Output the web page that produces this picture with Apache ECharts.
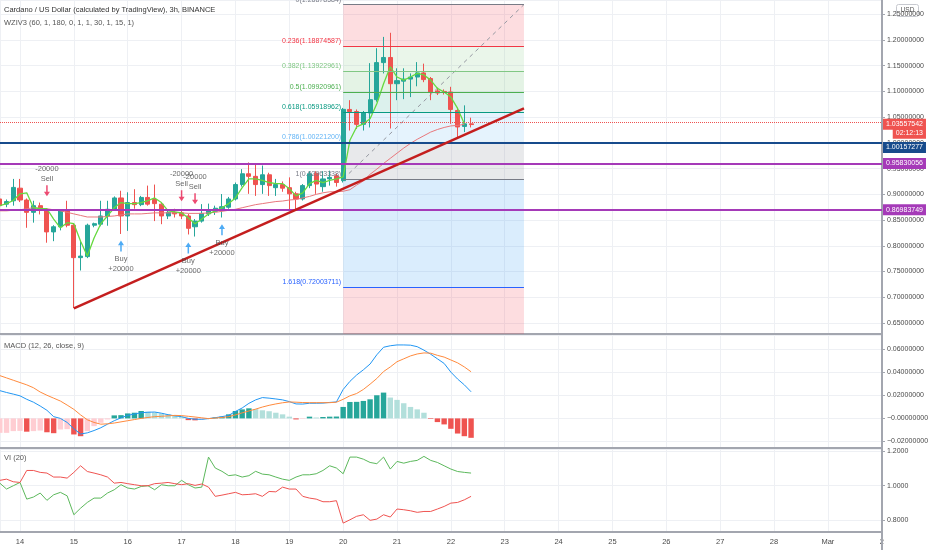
<!DOCTYPE html>
<html><head><meta charset="utf-8">
<script src="https://cdn.jsdelivr.net/npm/echarts@6/dist/echarts.min.js"></script>
<style>html,body{margin:0;padding:0;background:#fff;}#c{width:932px;height:550px;}</style>
</head><body><div id="c"></div>
<script>
// ---------- data ----------
const firstBarDay = 13.625;   // 13 Feb 15:00 (3h bars)
const barStepDays = 0.125;
const candleOpen  = [0.891,0.881,0.8875,0.912,0.889,0.865,0.878,0.869,0.827,0.837,0.868,0.840,0.777,0.779,0.840,0.842,0.858,0.871,0.893,0.858,0.884,0.880,0.894,0.890,0.881,0.858,0.865,0.864,0.858,0.837,0.848,0.862,0.867,0.872,0.875,0.891,0.919,0.940,0.935,0.919,0.938,0.913,0.919,0.913,0.901,0.891,0.917,0.941,0.915,0.930,0.936,0.9266,1.065,1.061,1.036,1.058,1.084,1.156,1.166,1.115,1.120,1.124,1.128,1.136,1.125,1.101,1.100,1.099,1.063,1.032,1.037];
const candleClose = [0.878,0.886,0.9135,0.889,0.865,0.878,0.869,0.827,0.837,0.868,0.840,0.777,0.780,0.840,0.843,0.858,0.871,0.893,0.858,0.884,0.880,0.894,0.881,0.882,0.858,0.865,0.862,0.858,0.834,0.848,0.863,0.868,0.873,0.876,0.891,0.919,0.940,0.935,0.919,0.938,0.917,0.919,0.912,0.901,0.891,0.917,0.940,0.920,0.930,0.933,0.923,1.0652,1.061,1.036,1.058,1.084,1.156,1.166,1.115,1.121,1.124,1.128,1.136,1.123,1.099,1.097,1.098,1.065,1.031,1.037,1.03557542];
const candleHigh  = [0.895,0.890,0.930,0.930,0.892,0.8875,0.884,0.872,0.840,0.871,0.8875,0.843,0.809,0.843,0.845,0.8875,0.8875,0.896,0.907,0.904,0.910,0.897,0.917,0.919,0.884,0.870,0.872,0.869,0.862,0.852,0.881,0.882,0.878,0.9006,0.895,0.923,0.949,0.962,0.959,0.956,0.942,0.930,0.925,0.933,0.905,0.920,0.945,0.945,0.945,0.946,0.940,1.068,1.083,1.065,1.062,1.155,1.184,1.206,1.214,1.145,1.145,1.135,1.157,1.154,1.128,1.105,1.104,1.109,1.068,1.073,1.049];
const candleLow   = [0.872,0.875,0.878,0.885,0.835,0.845,0.861,0.806,0.809,0.830,0.836,0.679,0.752,0.776,0.836,0.838,0.839,0.868,0.823,0.829,0.872,0.877,0.878,0.848,0.842,0.852,0.855,0.852,0.822,0.818,0.845,0.858,0.860,0.855,0.872,0.888,0.915,0.901,0.897,0.901,0.897,0.897,0.905,0.871,0.868,0.888,0.912,0.901,0.905,0.917,0.915,0.923,1.024,1.027,1.024,1.030,1.080,1.135,1.028,1.083,1.085,1.089,1.110,1.118,1.083,1.093,1.094,1.037,1.011,1.021,1.030];
const fastMA = [0.878,0.882,0.888,0.901,0.903,0.874,0.872,0.872,0.852,0.835,0.845,0.843,0.809,0.780,0.815,0.843,0.858,0.874,0.884,0.882,0.882,0.884,0.888,0.893,0.884,0.868,0.866,0.864,0.854,0.843,0.852,0.862,0.868,0.874,0.882,0.893,0.913,0.930,0.930,0.927,0.923,0.921,0.921,0.911,0.897,0.903,0.921,0.927,0.923,0.927,0.930,0.934,1.005,1.031,1.037,1.047,1.076,1.115,1.148,1.128,1.122,1.128,1.135,1.132,1.122,1.106,1.099,1.089,1.067,1.037];
const slowMA = [0.868,0.868,0.869,0.870,0.872,0.874,0.873,0.872,0.870,0.868,0.865,0.862,0.859,0.856,0.856,0.856,0.857,0.858,0.860,0.862,0.862,0.862,0.863,0.864,0.864,0.864,0.864,0.864,0.863,0.863,0.863,0.864,0.865,0.867,0.869,0.871,0.874,0.877,0.880,0.882,0.884,0.886,0.887,0.889,0.890,0.893,0.896,0.900,0.903,0.905,0.905,0.906,0.909,0.918,0.926,0.939,0.949,0.960,0.970,0.980,0.990,0.999,1.007,1.014,1.021,1.026,1.030,1.033,1.034,1.036];
const macdLine   = [0.0240,0.0224,0.0210,0.0195,0.0165,0.0140,0.0107,0.0070,0.0015,0.0000,-0.0035,-0.0090,-0.0135,-0.0125,-0.0105,-0.0081,-0.0050,-0.0020,0.0005,0.0026,0.0038,0.0049,0.0053,0.0055,0.0045,0.0032,0.0022,0.0015,0.0000,-0.0007,-0.0008,-0.0002,0.0006,0.0015,0.0026,0.0060,0.0090,0.0130,0.0160,0.0180,0.0175,0.0168,0.0160,0.0145,0.0125,0.0124,0.0131,0.0131,0.0132,0.0138,0.0142,0.0250,0.0320,0.0375,0.0420,0.0470,0.0550,0.0615,0.0628,0.0635,0.0635,0.0633,0.0620,0.0590,0.0555,0.0515,0.0475,0.0400,0.0340,0.0290,0.0230];
const macdSignal = [0.0370,0.0350,0.0330,0.0310,0.0290,0.0265,0.0228,0.0200,0.0175,0.0150,0.0115,0.0078,0.0030,-0.0012,-0.0035,-0.0050,-0.0047,-0.0040,-0.0030,-0.0020,-0.0010,0.0000,0.0008,0.0015,0.0018,0.0022,0.0026,0.0024,0.0018,0.0012,0.0005,-0.0002,0.0003,0.0008,0.0015,0.0030,0.0048,0.0064,0.0080,0.0098,0.0113,0.0125,0.0135,0.0142,0.0140,0.0137,0.0136,0.0136,0.0136,0.0136,0.0140,0.0165,0.0195,0.0215,0.0250,0.0296,0.0345,0.0405,0.0445,0.0490,0.0515,0.0540,0.0557,0.0566,0.0564,0.0545,0.0530,0.0505,0.0480,0.0445,0.0403];
const macdHist   = [-0.0125,-0.0125,-0.0110,-0.0108,-0.0115,-0.0110,-0.0105,-0.0120,-0.0128,-0.0096,-0.0093,-0.0139,-0.0154,-0.0110,-0.0067,-0.0038,-0.0009,0.0026,0.0028,0.0043,0.0049,0.0064,0.0058,0.0052,0.0043,0.0035,0.0026,0.0012,-0.0015,-0.0017,-0.0010,0.0003,0.0008,0.0015,0.0035,0.0064,0.0078,0.0087,0.0080,0.0070,0.0062,0.0049,0.0035,0.0015,-0.0009,-0.0005,0.0015,0.0008,0.0012,0.0015,0.0016,0.0099,0.0142,0.0143,0.0151,0.0165,0.0200,0.0223,0.0180,0.0160,0.0131,0.0099,0.0078,0.0049,-0.0005,-0.0032,-0.0052,-0.0090,-0.0131,-0.0154,-0.0168];
const viPlus  = [1.015,0.981,1.000,1.019,0.923,0.935,0.958,0.916,0.948,0.962,0.942,0.833,0.871,0.904,0.929,0.929,0.958,0.977,1.006,0.987,0.981,0.996,1.000,0.977,1.006,1.000,1.000,1.031,1.006,0.987,0.992,1.165,1.102,1.083,1.058,1.063,1.050,1.058,1.083,1.067,1.063,1.050,1.038,1.031,1.050,1.063,1.063,1.069,1.088,1.115,1.102,1.069,1.165,1.165,1.153,1.134,1.127,1.165,1.096,1.140,1.130,1.140,1.146,1.169,1.146,1.134,1.115,1.096,1.082,1.077,1.073];
const viMinus = [1.031,1.038,1.023,1.019,1.088,1.088,1.077,1.073,1.050,1.050,1.044,1.077,1.115,1.082,1.073,1.063,1.050,1.015,1.019,1.012,1.006,1.000,1.000,1.012,1.015,1.019,1.012,1.006,1.012,1.002,1.010,0.992,0.939,0.946,0.954,0.962,0.948,0.950,0.954,0.939,0.967,0.965,0.992,0.981,0.981,0.939,0.929,0.923,0.908,0.908,0.914,0.785,0.804,0.824,0.833,0.801,0.808,0.833,0.820,0.866,0.862,0.856,0.847,0.852,0.852,0.866,0.881,0.900,0.904,0.919,0.939];
const dayTicks      = [14,15,16,17,18,19,20,21,22,23,24,25,26,27,28,29,30];
const dayTickLabels = ['14','15','16','17','18','19','20','21','22','23','24','25','26','27','28','Mar','2'];
const fibStartDay = 20.0, fibEndDay = 23.357;
const fibLevels      = [0, 0.236, 0.382, 0.5, 0.618, 0.786, 1, 1.618, 2.618];
const fibLevelPrices = [1.26878584, 1.18874587, 1.13922961, 1.09920961, 1.05918962, 1.00221200, 0.92963338, 0.72003711, 0.38088];
const hLinePrices = [1.00157277, 0.95830056, 0.86983749];
const lastPrice = 1.03557542;
const countdownText = '02:12:13';
const trendLine = [[15.0, 0.6785], [23.357, 1.0672]];
const sellSignals = [[14.5, 0.907], [17.0, 0.8973], [17.25, 0.8914]];
const buySignals  = [[15.875, 0.7995], [17.125, 0.7957], [17.75, 0.831]];
const orderSize = 20000;

// ---------- styles / layout ----------
const dayMin = 13.6286, dayMax = 30.0046;
const priceMin = 0.6286, priceMax = 1.2777;
const macdMin = -0.0256, macdMax = 0.0721;
const viMin = 0.7338, viMax = 1.2115;
const FONT = 'Liberation Sans, Arial, sans-serif';
const upColor = '#26a69a', downColor = '#ef5350';
const axisGray = '#a3a6af', gridColor = '#eef0f4', labelColor = '#4a4a4a';
const fibLineColors = ['#787b86','#f23645','#81c784','#4caf50','#089981','#64b5f6','#787b86','#2962ff','#f23645'];
const fibZoneColors = ['rgba(242,54,69,0.17)','rgba(129,199,132,0.17)','rgba(76,175,80,0.15)','rgba(8,153,129,0.14)','rgba(100,181,246,0.17)','rgba(120,123,134,0.17)','rgba(33,150,243,0.17)','rgba(242,54,69,0.17)'];

const barDays = candleOpen.map((_, i) => firstBarDay + i * barStepDays);
const candles = candleOpen.map((o, i) => [barDays[i], o, candleClose[i], candleLow[i], candleHigh[i]]);
const pair = arr => arr.map((v, i) => [barDays[i], v]);

function dayLabel(v) {
  const r = Math.round(v);
  if (Math.abs(v - r) > 1e-6) return '';
  const k = dayTicks.indexOf(r);
  return k >= 0 ? dayTickLabels[k] : '';
}
function xAx(gi, showLabels) {
  return { type: 'value', gridIndex: gi, min: dayMin, max: dayMax, minInterval: 1, maxInterval: 1, splitNumber: 16,
    axisLine: { show: true, onZero: false, lineStyle: { color: axisGray, width: 2 } },
    axisTick: { show: false },
    axisLabel: { show: showLabels, formatter: dayLabel, color: labelColor, fontSize: 7.5, fontFamily: FONT, margin: 6, showMinLabel: false, showMaxLabel: false },
    splitLine: { show: true, lineStyle: { color: gridColor, width: 1 } } };
}
function yAx(gi, min, max, iv, fmt) {
  return { type: 'value', gridIndex: gi, position: 'right', min: min, max: max, minInterval: iv, maxInterval: iv, splitNumber: Math.round((max - min) / iv),
    axisLine: { show: true, onZero: false, lineStyle: { color: axisGray, width: 2 } },
    axisTick: { show: true, length: 3, lineStyle: { color: axisGray } },
    axisLabel: { formatter: fmt, color: labelColor, fontSize: 7, fontFamily: FONT, margin: 5, showMinLabel: false, showMaxLabel: false },
    splitLine: { show: true, lineStyle: { color: gridColor, width: 1 } } };
}
const signedFmt = v => (v < -1e-12 || Math.abs(v) < 1e-12 ? '\u2212' : '') + Math.abs(v).toFixed(8);

// fib zones and level lines
const fibZones = [];
for (let k = 0; k < fibLevelPrices.length - 1; k++) {
  fibZones.push([
    { coord: [fibStartDay, Math.min(fibLevelPrices[k], priceMax)], itemStyle: { color: fibZoneColors[k] } },
    { coord: [fibEndDay, Math.max(fibLevelPrices[k + 1], priceMin)] }
  ]);
}
const fibLines = [];
fibLevelPrices.forEach((p, k) => {
  if (p < priceMin) return;
  fibLines.push([
    { coord: [fibStartDay, p], lineStyle: { color: fibLineColors[k], width: 1, type: 'solid' },
      label: { show: true, position: 'start', distance: 2, formatter: fibLevels[k] + '(' + p.toFixed(8) + ')\n ', lineHeight: 10, color: fibLineColors[k], fontSize: 7, fontFamily: FONT } },
    { coord: [fibEndDay, p] }
  ]);
});

function tagLabel(text, bg, padTop) {
  return { show: true, position: 'end', distance: 1, formatter: '{t|' + text + '}', padding: [padTop, 0, 0, 0],
    rich: { t: { backgroundColor: bg, color: '#fff', fontSize: 7, fontFamily: FONT, lineHeight: 9, padding: [2, 3, 2, 3] } } };
}
const levelLines = [
  { yAxis: hLinePrices[0], lineStyle: { color: '#174b8c', width: 2, type: 'solid' }, label: tagLabel(hLinePrices[0].toFixed(8), '#174b8c', 9) },
  { yAxis: hLinePrices[1], lineStyle: { color: '#a53ab8', width: 2, type: 'solid' }, label: tagLabel(hLinePrices[1].toFixed(8), '#a53ab8', 0) },
  { yAxis: hLinePrices[2], lineStyle: { color: '#a53ab8', width: 2, type: 'solid' }, label: tagLabel(hLinePrices[2].toFixed(8), '#a53ab8', 0) },
  { yAxis: lastPrice, lineStyle: { color: '#ef5350', width: 1, type: 'dotted' },
    label: { show: true, position: 'end', distance: 1, formatter: '{p|' + lastPrice.toFixed(8) + '}\n{c|' + countdownText + '}', padding: [13, 0, 0, 0],
      rich: { p: { backgroundColor: '#ef5350', color: '#fff', fontSize: 7, fontFamily: FONT, lineHeight: 9, padding: [2, 3, 2, 3] },
              c: { backgroundColor: '#ef5350', color: '#fff', fontSize: 7, fontFamily: FONT, lineHeight: 9, padding: [2, 3, 2, 3], align: 'right' } } } }
];

const arrowDown = 'path://M3,0 L5,0 L5,7 L8,7 L4,12 L0,7 L3,7 Z';
const arrowUp = 'path://M3,12 L5,12 L5,5 L8,5 L4,0 L0,5 L3,5 Z';

function histColor(p) {
  const i = p.dataIndex, v = macdHist[i], prev = i > 0 ? macdHist[i - 1] : v;
  if (v >= 0) return v >= prev ? '#26a69a' : '#b2dfdb';
  return v < prev ? '#ef5350' : '#ffcdd2';
}

const option = {
  animation: false,
  backgroundColor: '#ffffff',
  textStyle: { fontFamily: FONT },
  grid: [
    { left: 0, right: 50, top: 0, height: 334 },
    { left: 0, right: 50, top: 335, height: 113 },
    { left: 0, right: 50, top: 449, height: 83 }
  ],
  xAxis: [xAx(0, false), xAx(1, false), xAx(2, true)],
  yAxis: [
    yAx(0, priceMin, priceMax, 0.05, v => v.toFixed(8)),
    yAx(1, macdMin, macdMax, 0.02, signedFmt),
    yAx(2, viMin, viMax, 0.2, v => v.toFixed(4))
  ],
  series: [
    { type: 'line', name: 'fib', xAxisIndex: 0, yAxisIndex: 0, z: 1, symbol: 'none', silent: true,
      data: [[fibStartDay, fibLevelPrices[6]], [fibEndDay, fibLevelPrices[0]]],
      lineStyle: { color: '#9598a1', width: 1, type: [4, 4] },
      markArea: { silent: true, data: fibZones },
      markLine: { silent: true, symbol: ['none', 'none'], data: fibLines } },
    { type: 'candlestick', xAxisIndex: 0, yAxisIndex: 0, z: 3, data: candles, encode: { x: 0, y: [1, 2, 3, 4] }, barWidth: 4.6,
      itemStyle: { color: upColor, color0: downColor, borderColor: upColor, borderColor0: downColor, borderWidth: 1 } },
    { type: 'line', xAxisIndex: 0, yAxisIndex: 0, z: 4, symbol: 'none', data: pair(slowMA), lineStyle: { color: '#e8777c', width: 1 } },
    { type: 'line', xAxisIndex: 0, yAxisIndex: 0, z: 4, symbol: 'none', data: pair(fastMA), lineStyle: { color: '#66d93f', width: 1.3 } },
    { type: 'line', xAxisIndex: 0, yAxisIndex: 0, z: 5, symbol: 'none', clip: false, data: trendLine, lineStyle: { color: '#c41e1e', width: 2.5 },
      markLine: { silent: true, symbol: ['none', 'none'], data: levelLines } },
    { type: 'scatter', xAxisIndex: 0, yAxisIndex: 0, z: 6, data: sellSignals, symbol: arrowDown, symbolSize: [6, 11],
      itemStyle: { color: '#e91e4f' },
      label: { show: true, position: 'top', distance: 2, formatter: '-' + orderSize + '\nSell', color: '#444', fontSize: 7.5, lineHeight: 9.5, fontFamily: FONT } },
    { type: 'scatter', xAxisIndex: 0, yAxisIndex: 0, z: 6, data: buySignals, symbol: arrowUp, symbolSize: [6, 11],
      itemStyle: { color: '#2196f3' },
      label: { show: true, position: 'bottom', distance: 3, formatter: 'Buy\n+' + orderSize, color: '#444', fontSize: 7.5, lineHeight: 9.5, fontFamily: FONT } },
    { type: 'bar', xAxisIndex: 1, yAxisIndex: 1, data: pair(macdHist), barWidth: 5.4, itemStyle: { color: histColor } },
    { type: 'line', xAxisIndex: 1, yAxisIndex: 1, symbol: 'none', data: pair(macdLine), lineStyle: { color: '#2196f3', width: 1 }, z: 3 },
    { type: 'line', xAxisIndex: 1, yAxisIndex: 1, symbol: 'none', data: pair(macdSignal), lineStyle: { color: '#ff8a3d', width: 1 }, z: 3 },
    { type: 'line', xAxisIndex: 2, yAxisIndex: 2, symbol: 'none', data: pair(viPlus), lineStyle: { color: '#5cb85c', width: 1 } },
    { type: 'line', xAxisIndex: 2, yAxisIndex: 2, symbol: 'none', data: pair(viMinus), lineStyle: { color: '#ef5350', width: 1 } }
  ],
  graphic: [
    { type: 'text', left: 4, top: 6, z: 100, style: { text: 'Cardano / US Dollar (calculated by TradingView), 3h, BINANCE', fill: '#333', fontSize: 7.5, fontFamily: FONT } },
    { type: 'text', left: 4, top: 19, z: 100, style: { text: 'WZIV3 (60, 1, 180, 0, 1, 1, 30, 1, 15, 1)', fill: '#555', fontSize: 7.5, fontFamily: FONT } },
    { type: 'text', left: 4, top: 342, z: 100, style: { text: 'MACD (12, 26, close, 9)', fill: '#555', fontSize: 7.5, fontFamily: FONT } },
    { type: 'text', left: 4, top: 454, z: 100, style: { text: 'VI (20)', fill: '#555', fontSize: 7.5, fontFamily: FONT } },
    { type: 'group', left: 896, top: 4, z: 100, children: [
      { type: 'rect', shape: { x: 0, y: 0, width: 22, height: 12, r: 2 }, style: { fill: '#fff', stroke: '#c7c9cf', lineWidth: 1 } },
      { type: 'text', x: 11, y: 6, style: { text: 'USD', fill: '#555', fontSize: 6.5, fontFamily: FONT, align: 'center', verticalAlign: 'middle' } }
    ] },
    { type: 'line', z: 100, shape: { x1: 882, y1: 532, x2: 882, y2: 550 }, style: { stroke: axisGray, lineWidth: 2 } }
  ]
};

const chart = echarts.init(document.getElementById('c'));
chart.setOption(option);
</script>
</body></html>
